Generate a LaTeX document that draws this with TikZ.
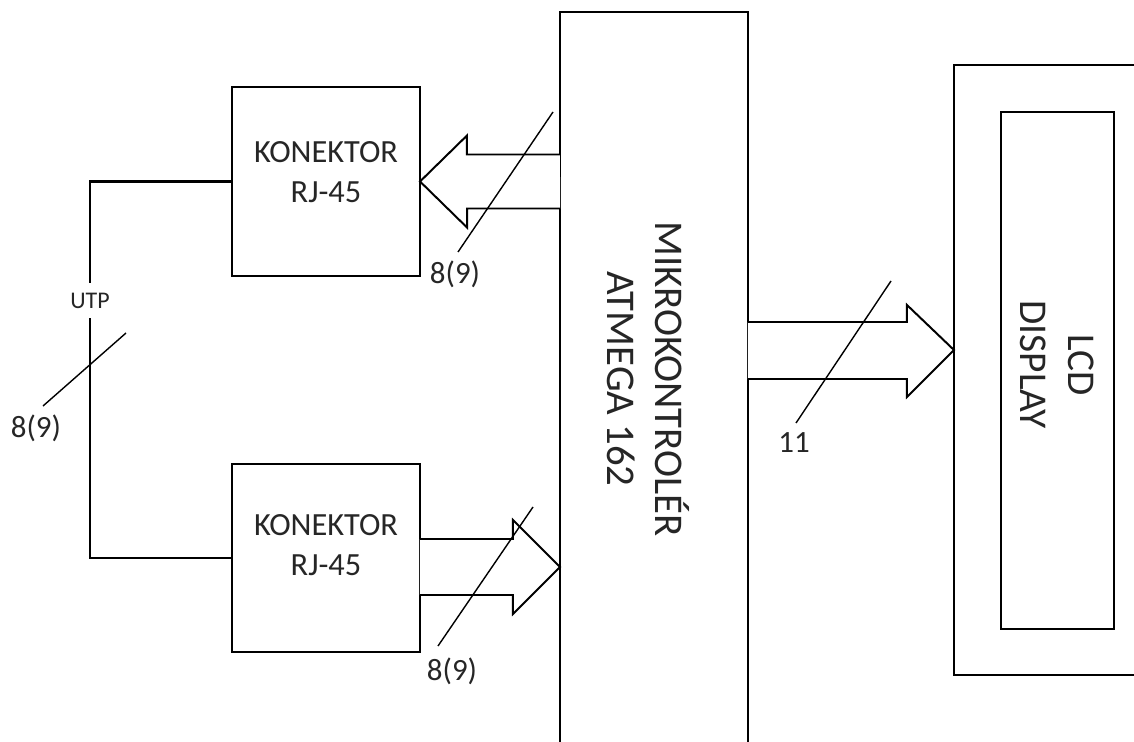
\documentclass[tikz,border=0pt]{standalone}
\usepackage{fontspec}
\setmainfont{Carlito}
\usetikzlibrary{calc}

\tikzset{
    block/.style={draw, line width=1.5pt, inner sep=0pt, outer sep=0pt},
    bus/.style={draw, fill=white, line width=1.4pt, line join=miter},
    slash/.style={line width=1pt},
    wire/.style={line width=1.5pt},
    boxtext/.style={align=center, text=black!85, font=\fontsize{23}{28.5}\selectfont},
    sidetext/.style={rotate=-90, align=center, text=black!85, font=\fontsize{28}{34}\selectfont},
    count/.style={inner sep=0pt, text=black!85, font=\fontsize{22}{26}\selectfont}
}

\begin{document}
\begin{tikzpicture}[x=0.025cm, y=-0.025cm]
    \useasboundingbox (0,0) rectangle (1134,742);
    \clip (0,0) rectangle (1134,742);

    % Blocks
    \node[block, minimum width=4.7cm, minimum height=4.725cm] (con1) at (326,181.5) {};
    \node[block, minimum width=4.7cm, minimum height=4.7cm] (con2) at (326,558) {};
    \node[block, minimum width=4.7cm, minimum height=19.7cm] (mcu) at (654,406) {};
    \node[block, minimum width=5.4cm, minimum height=15.25cm] (lcd) at (1062,370) {};
    \node[block, minimum width=2.825cm, minimum height=12.9cm] (screen) at (1057.5,370.5) {};

    % Block texts
    \node[boxtext] (con1txt) at ([yshift=7pt]con1.center) {KONEKTOR\\RJ-45};
    \node[boxtext] (con2txt) at ([yshift=9pt]con2.center) {KONEKTOR\\RJ-45};
    \node[sidetext, font=\fontsize{29}{34}\selectfont] (mcutxt) at (648,379) {MIKROKONTROLÉR\\ATMEGA 162};
    \node[sidetext] (lcdtxt) at ([yshift=4pt]screen.center) {LCD\\DISPLAY};

    % UTP cable between the connectors
    \node[inner sep=0pt, minimum height=25pt, text=black!85, font=\fontsize{17}{20}\selectfont] (utp) at (90,300.5) {UTP};
    \draw[wire] (con1.west) -| (utp.north);
    \draw[wire] (utp.south) |- (con2.west);

    % Buses
    \draw[bus] ($(mcu.west |- con1.east)+(0,-27)$) -- ++(-93,0) -- ++(0,-19) -- (con1.east) -- ++(47,46) -- ++(0,-19) -- ++(93,0);

    \coordinate (tip2) at ($(mcu.west |- con2.east)+(0,9)$);
    \draw[bus] ($(tip2)+(-140,-28)$) -- ++(93,0) -- ++(0,-19) -- (tip2) -- ++(-47,47) -- ++(0,-19) -- ++(-93,0);

    \coordinate (tip3) at ($(lcd.west)+(0,-20)$);
    \draw[bus] ($(tip3)+(-206,-28)$) -- ++(159,0) -- ++(0,-17) -- (tip3) -- ++(-47,47) -- ++(0,-18) -- ++(-159,0);

    % Line counts
    \draw[slash] (553,112) -- (458,252) ++(-3,22) node[count] (cntA) {8(9)};
    \draw[slash] (533,507) -- (438,646) ++(14,25) node[count] (cntB) {8(9)};
    \draw[slash] (891,281) -- (796,423) ++(-2,20) node[count] (cntC) {11};
    \draw[slash] (126,333) -- (43,406) ++(-7,22) node[count] (cntD) {8(9)};

\end{tikzpicture}
\end{document}
